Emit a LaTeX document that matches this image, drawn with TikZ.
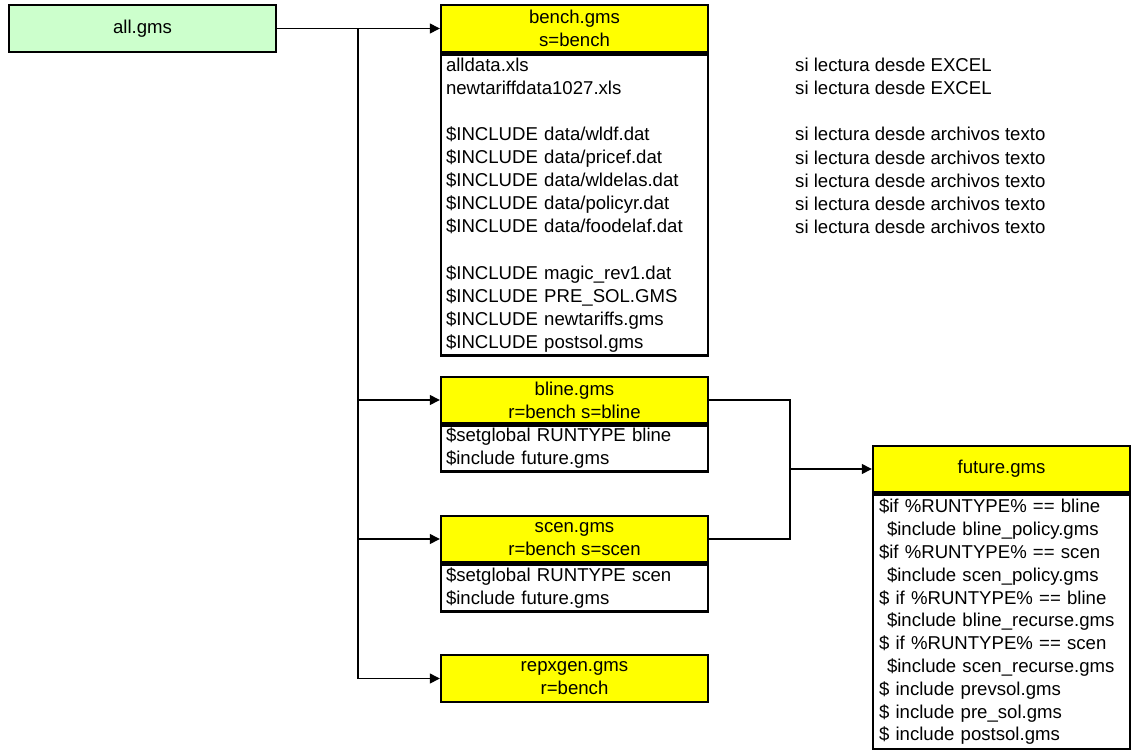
\documentclass[tikz,border=0pt]{standalone}
\usepackage{fontspec}
\setmainfont{Liberation Sans}
\usetikzlibrary{arrows.meta,positioning}
\definecolor{gmsyellow}{HTML}{FFFF00}
\definecolor{gmsgreen}{HTML}{CCFFCC}
\begin{document}
\begin{tikzpicture}[x=1pt,y=1pt,
	txt/.style={font=\fontsize{18.6}{23.1}\selectfont},
	box/.style={txt, draw, line width=2.4pt, minimum width=267pt, inner sep=0pt},
	head/.style={box, fill=gmsyellow, minimum height=46pt, align=center},
	body/.style={box, fill=white, anchor=north, align=left, text width=257pt, inner xsep=5pt},
	wire/.style={line width=1.3pt},
	link/.style={wire, -{Triangle[length=10pt,width=10pt]}}]
	\useasboundingbox (0,0) rectangle (1134,-749);
	\node[box, fill=gmsgreen, minimum height=47pt] (all) at (142.5,-28.5) {all.gms};
	\node[head, minimum height=47pt] (benchhead) at (574.5,-28.5) {bench.gms\\s=bench};
	\node[body, minimum height=301pt] (benchbody) at (benchhead.south) {alldata.xls\\newtariffdata1027.xls\\[23.1pt]\$INCLUDE data/wldf.dat\\\$INCLUDE data/pricef.dat\\\$INCLUDE data/wldelas.dat\\\$INCLUDE data/policyr.dat\\\$INCLUDE data/foodelaf.dat\\[23.1pt]\$INCLUDE magic\_rev1.dat\\\$INCLUDE PRE\_SOL.GMS\\\$INCLUDE newtariffs.gms\\\$INCLUDE postsol.gms};
	\node[txt, anchor=north west, align=left, inner sep=0pt] (notes) at (795,-58) {si lectura desde EXCEL\\si lectura desde EXCEL\\[23.1pt]si lectura desde archivos texto\\si lectura desde archivos texto\\si lectura desde archivos texto\\si lectura desde archivos texto\\si lectura desde archivos texto};
	\node[head] (blinehead) at (574.5,-400) {bline.gms\\r=bench s=bline};
	\node[body, minimum height=46pt] (blinebody) at (blinehead.south) {\$setglobal RUNTYPE bline\\\$include future.gms};
	\node[head] (scenhead) at (574.5,-539) {scen.gms\\r=bench s=scen};
	\node[body, minimum height=47pt] (scenbody) at (scenhead.south) {\$setglobal RUNTYPE scen\\\$include future.gms};
	\node[head, minimum height=47pt] (repxgenhead) at (574.5,-678.5) {repxgen.gms\\r=bench};
	\node[head, minimum width=257pt] (futurehead) at (1001.5,-469) {future.gms};
	\node[body, minimum width=257pt, text width=245pt, inner xsep=6pt, minimum height=255pt, font=\fontsize{18.6}{22.8}\selectfont] (futurebody) at (futurehead.south) {\$if \%RUNTYPE\% == bline\\\hspace*{8pt}\$include bline\_policy.gms\\\$if \%RUNTYPE\% == scen\\\hspace*{8pt}\$include scen\_policy.gms\\\$ if \%RUNTYPE\% == bline\\\hspace*{8pt}\$include bline\_recurse.gms\\\$ if \%RUNTYPE\% == scen\\\hspace*{8pt}\$include scen\_recurse.gms\\\$ include prevsol.gms\\\$ include pre\_sol.gms\\\$ include postsol.gms};
	\coordinate (split) at (358,-28.5);
	\coordinate (join) at (790,-469);
	\draw[link] (all.east) -- (benchhead.west);
	\draw[link] (split) |- (blinehead.west);
	\draw[link] (split) |- (scenhead.west);
	\draw[link] (split) |- (repxgenhead.west);
	\draw[wire] (blinehead.east) -| (join) |- (scenhead.east);
	\draw[link] (join) -- (futurehead.west);
\end{tikzpicture}
\end{document}
